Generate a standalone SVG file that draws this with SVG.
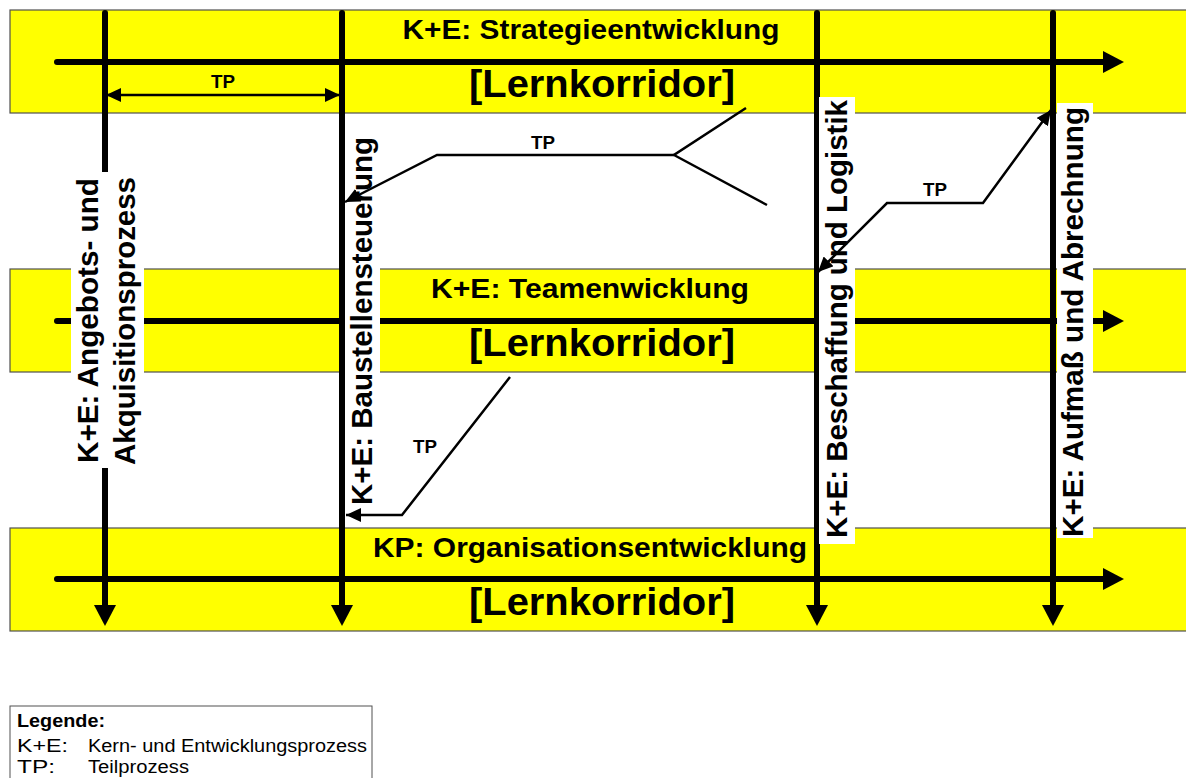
<svg xmlns="http://www.w3.org/2000/svg" width="1186" height="778" viewBox="0 0 1186 778">
  <style>
    .band { fill: #ffff00; stroke: #505050; stroke-width: 1.2; }
    .axis { fill: none; stroke: #000; stroke-width: 6; stroke-linecap: round; }
    .tp { fill: none; stroke: #000; stroke-width: 2.5; }
    .bold { font-family: "Liberation Sans", Arial, sans-serif; font-weight: bold; fill: #000; }
    .reg { font-family: "Liberation Sans", Arial, sans-serif; fill: #000; }
    .title { font-size: 27.5px; }
    .corr { font-size: 38px; }
    .vert { font-size: 29.5px; }
    .tplabel { font-size: 17.5px; }
    .legend { font-size: 18px; }
    .box { fill: #fff; }
  </style>
  <defs>
    <!-- heavy arrowhead for process axes -->
    <marker id="headBig" markerUnits="userSpaceOnUse" markerWidth="22" markerHeight="22" refX="0" refY="11" orient="auto">
      <path d="M0,0 L21,11 L0,22 z" fill="#000"/>
    </marker>
    <!-- small arrowhead for sub-process links -->
    <marker id="headTp" markerUnits="userSpaceOnUse" markerWidth="15" markerHeight="14" refX="15" refY="7" orient="auto-start-reverse">
      <path d="M0,0 L15,7 L0,14 z" fill="#000"/>
    </marker>
  </defs>

  <!-- learning corridors (horizontal bands) -->
  <g id="band-strategie">
    <rect class="band" x="10" y="10" width="1190" height="103"/>
  </g>
  <g id="band-team">
    <rect class="band" x="10" y="269" width="1190" height="103"/>
  </g>
  <g id="band-organisation">
    <rect class="band" x="10" y="528" width="1190" height="103"/>
  </g>

  <!-- process axes -->
  <g id="axes">
    <line class="axis" x1="57" y1="62" x2="1103" y2="62" marker-end="url(#headBig)"/>
    <line class="axis" x1="57" y1="321" x2="1103" y2="321" marker-end="url(#headBig)"/>
    <line class="axis" x1="57" y1="579" x2="1103" y2="579" marker-end="url(#headBig)"/>
    <line class="axis" x1="105" y1="13" x2="105" y2="605" marker-end="url(#headBig)"/>
    <line class="axis" x1="342" y1="13" x2="342" y2="605" marker-end="url(#headBig)"/>
    <line class="axis" x1="817" y1="13" x2="817" y2="605" marker-end="url(#headBig)"/>
    <line class="axis" x1="1053" y1="13" x2="1053" y2="605" marker-end="url(#headBig)"/>
  </g>

  <!-- band titles -->
  <g id="band-strategie-text">
    <text class="bold title" x="591" y="39" text-anchor="middle" textLength="377" lengthAdjust="spacingAndGlyphs">K+E: Strategieentwicklung</text>
    <text class="bold corr" x="602" y="97" text-anchor="middle" textLength="266" lengthAdjust="spacingAndGlyphs">[Lernkorridor]</text>
  </g>
  <g id="band-team-text">
    <text class="bold title" x="590" y="298" text-anchor="middle" textLength="318" lengthAdjust="spacingAndGlyphs">K+E: Teamenwicklung</text>
    <text class="bold corr" x="602" y="356" text-anchor="middle" textLength="266" lengthAdjust="spacingAndGlyphs">[Lernkorridor]</text>
  </g>
  <g id="band-organisation-text">
    <text class="bold title" x="590" y="557" text-anchor="middle" textLength="434" lengthAdjust="spacingAndGlyphs">KP: Organisationsentwicklung</text>
    <text class="bold corr" x="602" y="615" text-anchor="middle" textLength="266" lengthAdjust="spacingAndGlyphs">[Lernkorridor]</text>
  </g>

  <!-- vertical process labels -->
  <g id="proc-angebot">
    <rect class="box" x="71" y="172" width="73" height="296"/>
    <text class="bold vert" transform="translate(98,463) rotate(-90)" textLength="285" lengthAdjust="spacingAndGlyphs">K+E: Angebots- und</text>
    <text class="bold vert" transform="translate(135,465) rotate(-90)" textLength="288" lengthAdjust="spacingAndGlyphs">Akquisitionsprozess</text>
  </g>
  <g id="proc-baustelle">
    <rect class="box" x="345" y="133" width="35" height="377"/>
    <text class="bold vert" transform="translate(372,505) rotate(-90)" textLength="368" lengthAdjust="spacingAndGlyphs">K+E: Baustellensteuerung</text>
  </g>
  <g id="proc-beschaffung">
    <rect class="box" x="819" y="97" width="36" height="447"/>
    <text class="bold vert" transform="translate(847,538) rotate(-90)" textLength="438" lengthAdjust="spacingAndGlyphs">K+E: Beschaffung und Logistik</text>
  </g>
  <g id="proc-aufmass">
    <rect class="box" x="1057" y="103" width="36" height="435"/>
    <text class="bold vert" transform="translate(1083,537) rotate(-90)" textLength="430" lengthAdjust="spacingAndGlyphs">K+E: Aufmaß und Abrechnung</text>
  </g>

  <!-- sub-process links -->
  <g id="tp-links">
    <line class="tp" x1="106" y1="95" x2="340" y2="95" marker-start="url(#headTp)" marker-end="url(#headTp)"/>
    <path class="tp" d="M746,108 L674,155 L767,205"/>
    <path class="tp" d="M674,155 L437,155 L345,202" marker-end="url(#headTp)"/>
    <path class="tp" d="M510,377 L402,515 L346,515" marker-end="url(#headTp)"/>
    <path class="tp" d="M818,272 L887,203 L983,203 L1051,110" marker-start="url(#headTp)" marker-end="url(#headTp)"/>
    <text class="bold tplabel" x="223" y="88" text-anchor="middle" textLength="24" lengthAdjust="spacingAndGlyphs">TP</text>
    <text class="bold tplabel" x="543" y="149" text-anchor="middle" textLength="24" lengthAdjust="spacingAndGlyphs">TP</text>
    <text class="bold tplabel" x="425" y="453" text-anchor="middle" textLength="24" lengthAdjust="spacingAndGlyphs">TP</text>
    <text class="bold tplabel" x="935" y="196" text-anchor="middle" textLength="24" lengthAdjust="spacingAndGlyphs">TP</text>
  </g>

  <!-- legend -->
  <g id="legend">
    <rect x="10" y="706" width="362" height="90" fill="#fff" stroke="#505050" stroke-width="1"/>
    <text class="bold legend" x="17" y="727" textLength="88" lengthAdjust="spacingAndGlyphs">Legende:</text>
    <text class="reg legend" x="17" y="752" textLength="51" lengthAdjust="spacingAndGlyphs">K+E:</text>
    <text class="reg legend" x="88" y="752" textLength="279" lengthAdjust="spacingAndGlyphs">Kern- und Entwicklungsprozess</text>
    <text class="reg legend" x="17" y="773" textLength="38" lengthAdjust="spacingAndGlyphs">TP:</text>
    <text class="reg legend" x="88" y="773" textLength="101" lengthAdjust="spacingAndGlyphs">Teilprozess</text>
  </g>
</svg>
